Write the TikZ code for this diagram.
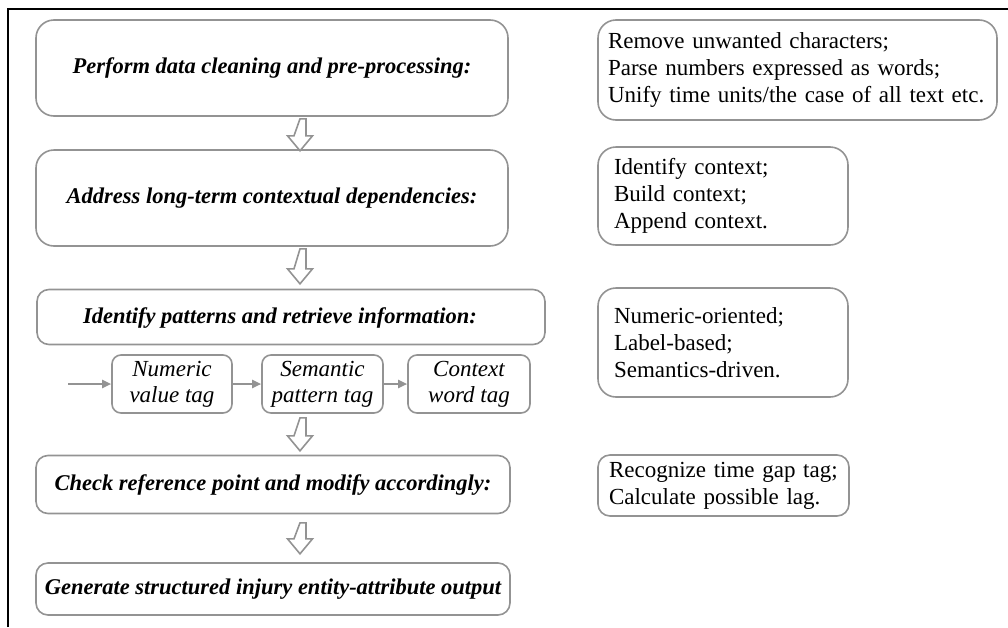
\documentclass[tikz,border=0pt]{standalone}
\usepackage{fontspec}
\setmainfont{Liberation Serif}
\usetikzlibrary{arrows.meta,calc}
\definecolor{edge}{HTML}{939393}
\newcommand\blkarrow[2]{\draw[blockarrow] #1 -- ++(6,0) -- ++(0,{#2-15}) -- ++(6.5,0) -- ++(-12.5,15) -- ++(-12.5,-15) -- ++(6.5,0) -- cycle;}
\begin{document}
\begin{tikzpicture}[x=1pt,y=-1pt,
  mainbox/.style={draw=edge, line width=1.6pt, rounded corners=#1, inner sep=0pt,
    font=\fontsize{22.5}{26}\selectfont\bfseries\itshape},
  mainbox/.default=14pt,
  maintext/.style={inner sep=0pt, font=\fontsize{22.5}{26}\selectfont\bfseries\itshape},
  smallbox/.style={draw=edge, line width=1.6pt, rounded corners=9pt, inner sep=0pt,
    minimum width=121pt, minimum height=58pt, align=center,
    font=\fontsize{23}{26}\selectfont\itshape},
  sidebox/.style={draw=edge, line width=1.6pt, rounded corners=18pt, inner ysep=0pt,
    inner xsep=16pt, align=left, font=\fontsize{23}{27}\selectfont},
  blockarrow/.style={draw=edge, line width=1.6pt, fill=white, line join=miter},
  smallarr/.style={draw=edge, line width=2pt, -{Triangle[length=9pt,width=8pt]}},
  frameline/.style={draw=black, line width=1.5pt}
]
\useasboundingbox (0,0) rectangle (1008,627);
\draw[frameline] (8,627) -- (8,9) -- (1008,9);

% main column
\node[mainbox=18pt, minimum width=472pt, minimum height=96pt] (b1) at (272,68) {Perform data cleaning and pre-processing:};
\node[mainbox=18pt, minimum width=472pt, minimum height=96pt] (b2) at (272,198) {Address long-term contextual dependencies:};
\node[mainbox=12pt, minimum width=508pt, minimum height=55pt] (b3) at (291,317) {};
\node[maintext] (b3t) at (280,318) {Identify patterns and retrieve information:};
\node[smallbox, minimum width=120pt] (n1) at (172,384) {Numeric\\value tag};
\node[smallbox] (n2) at (322.5,384) {Semantic\\pattern tag};
\node[smallbox, minimum width=122pt] (n3) at (469,384) {Context\\word tag};
\node[mainbox=12pt, minimum width=474pt, minimum height=58pt] (b4) at (273,484.5) {Check reference point and modify accordingly:};
\node[mainbox=12pt, minimum width=474pt, minimum height=52pt] (b5) at (273,589) {Generate structured injury entity-attribute output};

% side boxes
\node[sidebox, inner xsep=10pt, minimum width=399pt, minimum height=100pt, text width=379pt] (r1) at (797.5,70) {Remove unwanted characters;\\Parse numbers expressed as words;\\Unify time units/the case of all text etc.};
\node[sidebox, minimum width=250pt, minimum height=98pt, text width=218pt] (r2) at (723,196) {Identify context;\\Build context;\\Append context.};
\node[sidebox, minimum width=250pt, minimum height=109pt, text width=218pt] (r3) at (723,342.5) {Numeric-oriented;\\Label-based;\\Semantics-driven.};
\node[sidebox, rounded corners=12pt, inner xsep=11pt, minimum width=251pt, minimum height=61pt, text width=229pt] (r4) at (723.5,485.5) {Recognize time gap tag;\\Calculate possible lag.};

% block arrows
\coordinate (ax) at (300,0);
\blkarrow{($(b1.south -| ax)+(0,2)$)}{32}
\blkarrow{($(b2.south -| ax)+(0,2)$)}{35}
\blkarrow{($(n2.south -| ax)+(0,4)$)}{33}
\blkarrow{($(b4.south -| ax)+(0,8.5)$)}{31}

% small arrows
\coordinate (lstart) at (68,384);
\draw[smallarr] (lstart) -- (n1.west);
\draw[smallarr] (n1.east) -- (n2.west);
\draw[smallarr] (n2.east) -- (n3.west);
\end{tikzpicture}
\end{document}
